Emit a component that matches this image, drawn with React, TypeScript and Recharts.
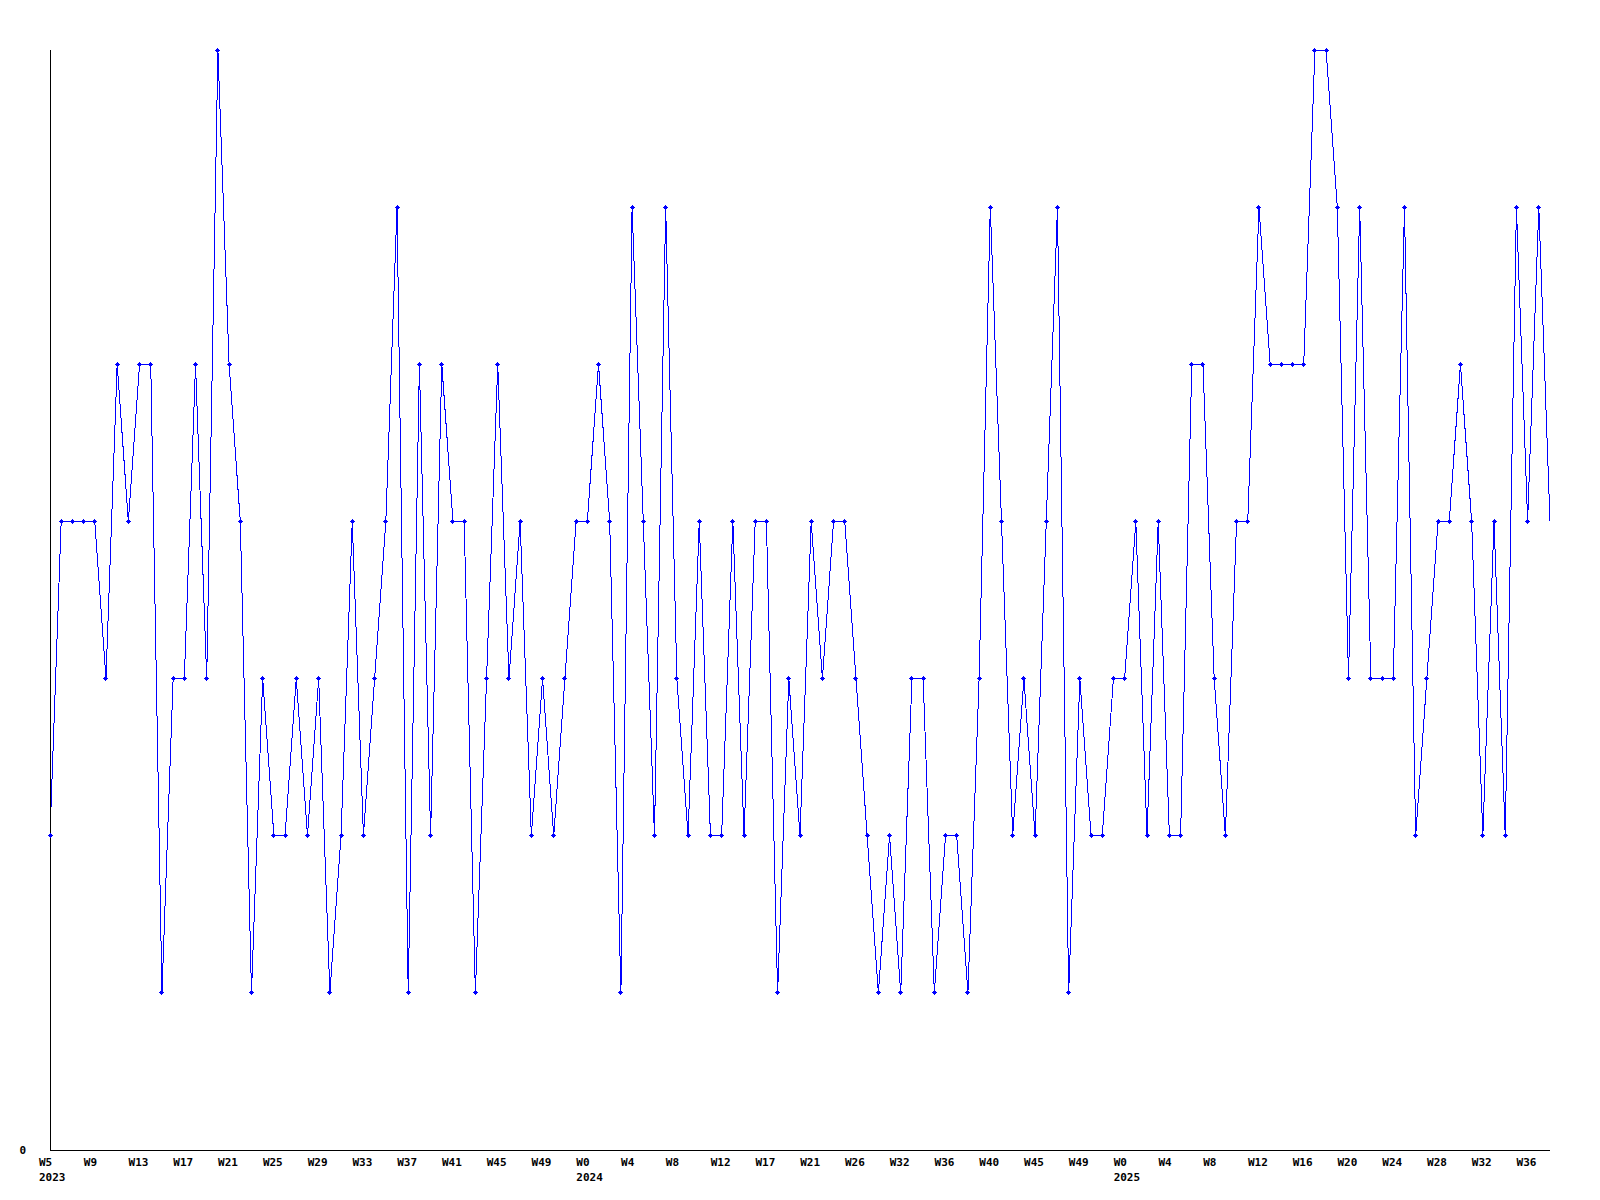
import { LineChart, Line, XAxis, YAxis } from 'recharts';

// weekly values, 2023 W5 .. 2025 W38
const values = [
  2, 4, 4, 4, 4, 3, 5, 4, 5, 5,
  1, 3, 3, 5, 3, 7, 5, 4, 1, 3,
  2, 2, 3, 2, 3, 1, 2, 4, 2, 3,
  4, 6, 1, 5, 2, 5, 4, 4, 1, 3,
  5, 3, 4, 2, 3, 2, 3, 4, 4, 5,
  4, 1, 6, 4, 2, 6, 3, 2, 4, 2,
  2, 4, 2, 4, 4, 1, 3, 2, 4, 3,
  4, 4, 3, 2, 1, 2, 1, 3, 3, 1,
  2, 2, 1, 3, 6, 4, 2, 3, 2, 4,
  6, 1, 3, 2, 2, 3, 3, 4, 2, 4,
  2, 2, 5, 5, 3, 2, 4, 4, 6, 5,
  5, 5, 5, 7, 7, 6, 3, 6, 3, 3,
  3, 6, 2, 3, 4, 4, 5, 4, 2, 4,
  2, 6, 4, 6, 4,
];

// one label every 4th point
const weekLabels = [
  'W5', 'W9', 'W13', 'W17', 'W21', 'W25', 'W29', 'W33', 'W37', 'W41', 'W45', 'W49',
  'W0', 'W4', 'W8', 'W12', 'W17', 'W21', 'W26', 'W32', 'W36', 'W40', 'W45', 'W49',
  'W0', 'W4', 'W8', 'W12', 'W16', 'W20', 'W24', 'W28', 'W32', 'W36',
];
const years = ['2023', '2024', '2025'];
const yearStarts = [0, 48, 96];

const data = values.map((v, i) => ({ i, v }));
const tickStep = 4;
const xTicks = weekLabels.map((_, k) => k * tickStep);

const FONT = '"DejaVu Sans Mono", monospace';

const WeekTick = ({ x, y, payload }: any) => {
  const idx = payload.value;
  const label = weekLabels[idx / tickStep];
  const yi = yearStarts.indexOf(idx);
  return (
    <g>
      <text x={x - 11} y={y + 16} textAnchor="start" fontFamily={FONT} fontSize={11} fontWeight="bold" fill="#000">
        {label}
      </text>
      {yi >= 0 && (
        <text x={x - 11} y={y + 31} textAnchor="start" fontFamily={FONT} fontSize={11} fontWeight="bold" fill="#000">
          {years[yi]}
        </text>
      )}
    </g>
  );
};

const ZeroTick = ({ x, y, payload }: any) => (
  <text x={x - 24} y={y + 4} textAnchor="end" fontFamily={FONT} fontSize={11} fontWeight="bold" fill="#000">
    {payload.value}
  </text>
);

const PlusDot = ({ cx, cy, index }: any) => {
  if (index === values.length - 1) return <g key={`d${index}`} />;
  return (
    <g key={`d${index}`} fill="#0000ff">
      <rect x={cx - 2.5} y={cy - 0.5} width={5} height={1} />
      <rect x={cx - 0.5} y={cy - 2.5} width={1} height={5} />
      <rect x={cx - 1.5} y={cy - 1.5} width={3} height={3} />
    </g>
  );
};

export default function App() {
  return (
    <div style={{ position: 'absolute', left: 0, top: 0, width: 1600, height: 1200, background: '#fff' }}>
      <LineChart
        width={1600}
        height={1200}
        data={data}
        margin={{ top: 50, right: 50, bottom: 0, left: 0 }}
        style={{ shapeRendering: 'crispEdges' }}
      >
        <XAxis
          dataKey="i"
          type="number"
          domain={[0, values.length - 1]}
          ticks={xTicks}
          interval={0}
          height={50}
          tickLine={false}
          tickSize={0}
          tickMargin={0}
          axisLine={{ stroke: '#000', strokeWidth: 1 }}
          tick={<WeekTick />}
        />
        <YAxis
          type="number"
          domain={[0, 7]}
          ticks={[0]}
          width={50}
          tickLine={false}
          tickSize={0}
          tickMargin={0}
          axisLine={{ stroke: '#000', strokeWidth: 1 }}
          tick={<ZeroTick />}
        />
        <Line
          type="linear"
          dataKey="v"
          stroke="#0000ff"
          strokeWidth={1}
          dot={(p: any) => <PlusDot key={`d${p.index}`} {...p} />}
          activeDot={false}
          isAnimationActive={false}
        />
      </LineChart>
    </div>
  );
}
